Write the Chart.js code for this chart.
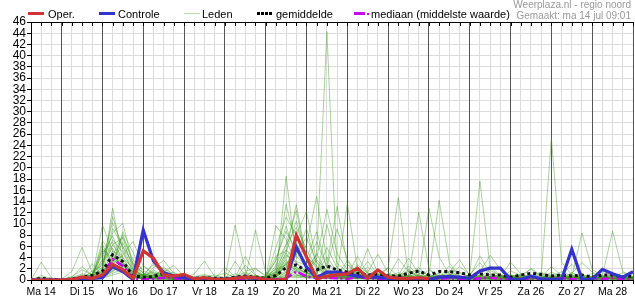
<!DOCTYPE html>
<html><head><meta charset="utf-8">
<script src="https://cdn.jsdelivr.net/npm/chart.js@4.4.1/dist/chart.umd.min.js"></script>
<style>
html,body{margin:0;padding:0;background:#fff;}
#wrap{position:relative;width:635px;height:300px;overflow:hidden;font-family:"Liberation Sans",Arial,sans-serif;}
canvas{position:absolute;left:0;top:0;}
.lg{position:absolute;top:8px;font-size:11px;line-height:12px;color:#000;white-space:nowrap;}
.sw{position:absolute;}
.hd{position:absolute;right:4px;font-size:10px;line-height:10px;color:#999;white-space:nowrap;}
</style></head>
<body><div id="wrap">
<canvas id="c" width="635" height="300"></canvas>
<div class="sw" style="left:28px;top:12px;width:16px;height:3px;background:#d03434"></div>
<div class="lg" style="left:48px">Oper.</div>
<div class="sw" style="left:99px;top:12px;width:16px;height:3px;background:#3434cc"></div>
<div class="lg" style="left:118px">Controle</div>
<div class="sw" style="left:184px;top:13px;width:16px;height:1px;background:#b9dbae"></div>
<div class="lg" style="left:202px">Leden</div>
<div class="sw" style="left:257px;top:12px;width:15px;height:3px;background:repeating-linear-gradient(to right,#000 0 3px,transparent 3px 4px)"></div>
<div class="lg" style="left:276px">gemiddelde</div>
<div class="sw" style="left:354px;top:12px;width:11px;height:3px;background:#cc00ee"></div>
<div class="sw" style="left:367px;top:13px;width:2px;height:2px;background:#cc00ee"></div>
<div class="lg" style="left:371px">mediaan (middelste waarde)</div>
<div class="hd" style="top:0px">Weerplaza.nl - regio noord</div>
<div class="hd" style="top:11px">Gemaakt: ma 14 jul 09:01</div>
</div>
<script>
// 6-hourly steps from Ma 14 06:00 to Di 29 00:00 (60 points)
const dayLabels = ["Ma 14","Di 15","Wo 16","Do 17","Vr 18","Za 19","Zo 20","Ma 21","Di 22","Wo 23","Do 24","Vr 25","Za 26","Zo 27","Ma 28"];

const oper = [0,0,0, 0,0.1,0.5,0.3, 0.9,2.8,1.8,0.3, 5.2,3.9,0.9,0.7, 1.0,0.2,0.4,0.1, 0.1,0.3,0.5,0.4, 0.1,0,0.1,8.0, 4.1,0.2,0.7,0.9, 1.1,2.1,0.3,1.8, 0.5,0.3,0.3,0.4, 0.2];

const controle = [0,0,0, 0,0,0.3,0.3, 0.4,2.4,1.5,0.1, 8.9,3.4,1.3,0.7, 0.4,0.1,0.3,0.1, 0.1,0.3,0.5,0.3, 0.1,0,0.1,5.9, 2.3,0.4,1.4,1.4, 1.0,0.7,0.5,0.5, 0.3,0.3,0.2,0.2, 0.1,0.5,0.6,0.5, 0.3,1.6,2.1,2.1, 0.1,0.1,0.7,0.2, 0.1,0.1,5.5,0.1, 0.1,1.9,1.1,0.5, 1.5];

const gemiddelde = [0,0.3,0.1, 0,0.2,0.5,0.8, 1.6,4.5,3.3,0.7, 0.5,0.6,1.2,0.7, 0.5,0.3,0.4,0.3, 0.2,0.5,0.7,0.5, 0.3,0.8,2.2,2.7, 1.6,1.8,2.5,1.8, 1.4,1.2,0.9,1.0, 0.7,0.7,1.2,1.6, 0.9,1.5,1.5,1.3, 0.9,1.1,0.9,0.9, 0.5,0.9,1.2,1.0, 0.7,0.9,0.7,0.9, 0.5,0.9,0.9,0.6, 0.7];

const mediaan = [0,0,0, 0,0,0.1,0.2, 0.8,3.7,2.5,0.2, 0.1,0.2,0.4,0.3, 0.1,0,0.1,0.1, 0,0.1,0.2,0.1, 0,0.1,0.3,1.5, 0.6,0.3,0.4,0.3, 0.2,0.5,0.3,0.2, 0.2,0.1,0.2,0.4, 0.2,0.2,0.3,0.2, 0.1,0.3,0.4,0.2, 0.1,0.1,0.3,0.2, 0.1,0.3,0.2,0.1, 0.1,0.2,0.3,0.2, 0.1];

const lid01 = [0,0,0, 0,0.2,0.5,1.2, 3.5,6.2,4.1,1.0, 0.8,1.5,0.6,0.3, 0.2,0,0.4,0.1, 0,0.3,1.2,0.4, 0.2,1.5,4.8,2.3, 1.1,3.6,1.8,0.7, 0.5,1.8,0.9,0.3, 0.2,0.6,2.5,0.8, 0.3,0.1,0.7,1.4, 0.6,0.2,0.3,0.9, 0.4,0.1,0.2,0.5, 1.1,0.3,0.6,0.2, 0.1,0.4,1.0,0.3, 0.2];
const lid02 = [0,0.4,0.1, 0,0,0.3,0.8, 2.1,11.3,5.4,1.2, 0.4,0.9,1.8,0.5, 0.3,0.1,0,0, 0.1,0,0.6,2.0, 0.8,3.4,9.6,4.2, 2.5,1.2,5.8,2.2, 0.9,0.3,1.4,4.6, 1.3,0.5,0.2,0.4, 1.8,0.6,0.3,0.1, 0.2,1.5,4.4,1.9, 0.7,0.3,0.1,0.6, 2.4,0.8,0.3,0.1, 0,0.2,0.5,1.3, 0.6];
const lid03 = [0,0,0, 0.1,0.6,1.8,0.9, 1.4,12.8,3.3,1.0, 1.0,0.4,0.2,0.6, 1.2,0.3,0.1,0, 0,0.5,0.2,0.1, 0.4,0.9,2.2,7.5, 4.1,2.6,0.8,0.5, 2.9,1.1,0.4,0.2, 0.6,3.8,1.5,0.7, 0.2,0.4,1.1,0.5, 0.3,0.1,0.6,0.3, 1.6,0.9,0.4,0.2, 0.1,0.3,1.2,3.1, 1.4,0.6,0.2,0.1, 0.3];
const lid04 = [0,3.2,0.4, 0,0,0,0.4, 5.6,3.9,2.8,1.5, 0.7,3.1,2.0,0.9, 0.4,0.2,0.1,0, 0.3,9.8,1.6,2.1, 0.6,0.2,1.4,5.6, 1.8,0.7,0.3,1.2, 0.4,0.9,3.3,1.0, 0.3,0.2,0.5,1.6, 0.8,14.2,3.1,0.6, 0.4,0.2,0.1,0.3, 0.9,0.5,2.1,0.8, 0.3,0.1,0.4,0.6, 0.2,1.9,0.7,0.3, 0.1];
const lid05 = [0,0,0, 0,0.3,0.2,1.0, 4.4,7.9,3.0,0.6, 2.6,1.2,0.5,0.2, 0,0,0,0.1, 0,0.2,0.4,0.3, 0.1,1.8,13.5,6.0, 2.2,4.5,44.3,1.6, 0.8,0.4,0.3,0.9, 2.2,0.7,0.4,0.3, 0.5,0.9,0.4,0.2, 0.1,0.6,1.7,0.8, 0.3,0.2,0.6,1.4, 0.5,0.2,0.1,0.3, 0.4,0.2,0.8,0.3, 0.2];
const lid06 = [0,0,0, 0,0,0.1,0.3, 0.9,2.4,8.6,4.9, 1.1,0.6,0.3,0.1, 0,0,0.2,0.5, 1.3,0.4,0.2,0.1, 0,0.4,18.5,3.8, 6.2,14.9,3.4,1.1, 0.7,2.3,0.9,0.4, 0.3,0.1,0.4,0.2, 0.1,0.3,0.8,2.4, 1.0,17.6,2.2,0.5, 0.3,0.2,0.1,0.4, 0.6,1.5,0.7,0.3, 0.2,0.1,0.3,0.6, 0.4];
const lid07 = [0,0.1,0, 0,0,0.4,2.9, 0.8,3.2,6.7,2.5, 0.5,0.8,1.4,2.6, 0.6,0.3,0,0, 0,0.1,0.3,0.8, 0.2,2.6,6.4,12.4, 3.3,1.5,2.7,13.1, 2.8,0.7,0.4,0.3, 0.9,0.5,0.3,12.1, 2.0,0.6,0.4,0.2, 0.1,0.3,0.9,0.5, 3.2,1.1,0.5,0.2, 0.4,0.9,2.8,1.0, 0.3,0.6,0.2,0.1, 0.2];
const lid08 = [0,0,0, 0,0.1,0.2,0.6, 9.8,5.1,2.0,0.4, 0.3,2.2,3.5,1.2, 0.4,0.1,0,0.1, 0.2,0.6,0.3,8.9, 1.4,0.5,3.1,1.7, 0.9,4.7,1.3,0.8, 13.7,1.9,0.6,1.1, 0.4,1.0,0.3,0.2, 0.6,1.2,0.5,0.3, 0.2,0.5,0.3,0.1, 0.4,0.8,1.9,0.6, 25.3,3.2,0.9,0.4, 1.2,0.5,0.3,0.7, 1.1];
const lid09 = [0,0.8,0.2, 0,0,0,0.2, 1.6,3.5,2.4,0.9, 0.4,0.2,0.6,0.3, 0.1,0,0.1,0, 0,0.2,0.1,0.4, 0.3,1.2,3.6,2.0, 1.4,0.8,0.5,1.6, 0.7,0.4,1.8,0.6, 2.1,14.7,0.8,0.3, 0.2,0.5,0.9,0.4, 0.3,0.2,0.4,0.7, 0.5,0.9,0.3,0.2, 0.4,0.3,0.6,8.4, 1.9,0.7,0.4,0.2, 0.3];
const lid10 = [0,0,0, 0,0,0.6,0.3, 3.0,8.4,10.1,2.6, 1.3,0.5,0.9,0.4, 0.2,1.1,3.4,0.6, 0.3,0.1,0.6,0.2, 0.1,0.7,1.6,4.5, 9.2,2.4,0.8,0.4, 1.2,0.5,0.2,0.1, 0.3,0.4,1.6,0.5, 12.8,4.1,1.0,0.4, 0.2,0.1,0.3,0.2, 0.6,0.4,0.8,0.3, 0.2,0.5,0.3,0.1, 0.3,0.8,8.7,1.5, 0.6];
const lid11 = [0,0,0.3, 0.2,1.5,5.8,1.4, 1.2,4.0,3.1,0.7, 0.2,0.4,0.3,0.1, 0,0,0,0, 0,0.1,0.2,0.1, 0.6,1.9,2.7,1.0, 0.4,0.6,0.3,0.2, 0.4,0.9,0.5,0.3, 0.2,0.6,0.4,0.9, 0.3,0.2,0.1,0.4, 0.9,0.6,0.3,0.2, 0.1,0.3,0.5,0.2, 0.4,0.2,0.6,0.3, 0.5,0.2,0.1,0.3, 0.4];
const lid12 = [0,0,0, 0,0,0.2,0.4, 1.8,6.3,7.5,1.9, 0.6,0.3,0.4,0.8, 0.3,0.2,0.6,0.9, 0.4,0.2,0.3,0.5, 0.2,5.8,11.2,8.0, 12.2,3.1,1.0,0.5, 0.6,1.6,0.8,0.3, 0.4,0.2,0.5,0.3, 0.6,0.4,2.5,0.7, 0.3,0.5,0.2,0.1, 0.2,0.6,0.4,0.9, 0.3,0.1,0.2,0.4, 0.6,1.7,0.5,0.2, 0.3];
const lid13 = [0,0,0, 0,0.3,0.1,0.5, 7.0,4.6,1.5,0.3, 0.2,0.5,2.3,0.9, 0.3,0.2,0.4,0.2, 0.1,3.3,0.8,0.3, 0.4,0.2,0.5,2.3, 1.1,0.6,9.9,3.0, 1.4,0.8,5.6,1.2, 0.5,0.3,0.2,0.1, 0.4,0.8,0.5,0.3, 0.6,4.3,1.2,0.4, 0.2,0.1,0.3,0.2, 0.5,0.9,0.4,0.1, 0.2,0.4,0.3,0.5, 0.2];
const lid14 = [0,0,0, 0,0.2,0.9,0.4, 0.6,2.8,4.4,6.9, 2.5,1.0,0.4,0.2, 0.1,0,0,0, 0,0,0.1,0.3, 0.5,0.3,0.8,1.6, 0.5,1.8,0.9,0.4, 0.3,0.2,0.6,1.9, 0.8,0.3,0.2,0.4, 0.3,0.6,0.2,0.1, 0.2,0.4,1.0,0.6, 0.4,0.3,0.2,0.1, 0.2,0.4,1.3,0.5, 0.3,0.2,0.4,0.1, 0.2];
const lid15 = [0,0.2,0, 0,0,0.1,0.2, 0.4,1.2,1.9,0.8, 0.3,0.2,0.1,0.2, 0.6,0.4,0.2,0.1, 0,0.4,0.3,0.1, 0.2,0.6,1.3,0.9, 0.4,0.3,0.5,0.2, 0.1,0.3,0.2,0.4, 0.2,0.5,0.3,0.2, 0.1,0.2,0.4,0.3, 0.6,0.3,0.2,0.1, 0.2,0.4,0.3,0.5, 0.3,0.2,0.1,0.2, 0.4,0.3,0.2,0.3, 0.1];
const lid16 = [0,0,0, 0,0,0.3,1.6, 2.6,9.2,5.9,1.8, 0.9,0.4,1.1,0.5, 0.2,0.1,0.3,0.1, 0.2,0.5,0.2,0.6, 0.3,9.7,7.2,2.9, 1.5,3.9,12.6,4.7, 1.8,0.9,0.5,0.3, 0.6,1.3,0.7,0.4, 0.2,0.3,0.9,0.5, 0.8,0.4,0.2,0.3, 0.9,0.5,0.2,0.3, 1.4,0.6,0.3,0.2, 0.4,0.9,0.3,0.2, 0.4];
const lid17 = [0,0,0.1, 0,0,0,0.1, 0.5,1.8,2.2,0.6, 0.4,1.3,0.6,0.3, 0.2,0.6,1.0,0.4, 0.1,0.3,4.2,0.9, 0.3,0.1,0.4,0.8, 0.6,0.4,0.3,0.7, 0.5,0.2,0.1,0.3, 0.2,0.4,0.6,0.3, 0.5,0.3,0.2,0.4, 0.2,0.1,0.3,0.2, 0.1,0.2,0.4,0.3, 0.2,0.6,0.3,0.1, 0.3,0.5,0.2,0.4, 0.3];
const lid18 = [0,0,0, 0,0.1,0.4,0.9, 5.4,3.3,7.7,3.6, 1.7,0.8,0.6,0.2, 0.1,0.2,0.1,0, 0,0.1,0.2,0.1, 0.4,4.3,5.1,13.4, 3.8,8.6,2.1,1.0, 0.4,0.3,0.8,0.5, 1.1,0.6,0.3,0.2, 0.3,0.7,1.4,3.6, 0.8,0.4,0.3,0.2, 0.6,0.9,0.4,0.3, 0.2,0.4,0.2,0.3, 0.1,0.2,0.6,0.3, 0.5];
const lid19 = [0,0,0, 0,0,0,0.3, 0.8,2.1,1.3,0.5, 0.3,0.9,1.6,0.4, 0.2,0.1,0.2,0.3, 2.2,0.6,0.3,0.2, 0.1,0.3,1.0,0.6, 0.3,0.9,0.6,0.3, 0.5,1.2,0.4,0.2, 0.3,0.2,0.1,0.5, 0.9,0.4,0.3,0.2, 0.4,0.8,0.5,0.3, 0.2,0.3,0.5,0.4, 0.3,0.2,0.5,0.9, 0.6,0.3,0.2,0.4, 0.2];
const lid20 = [0,0,0, 0,0.2,0.1,0.4, 1.1,5.2,3.9,2.2, 0.6,0.3,0.2,0.1, 0,0,0.1,0.2, 0.3,0.2,0.9,0.4, 0.2,0.6,3.9,6.8, 2.0,1.1,0.7,0.9, 3.4,1.0,0.6,0.3, 0.2,0.8,3.9,1.2, 0.5,0.3,0.6,0.4, 0.9,3.1,0.8,0.3, 0.5,0.2,0.4,1.1, 0.7,0.3,0.2,0.1, 0.2,0.3,1.1,0.4, 0.6];
const lid21 = [0,0.5,0, 0,0,0.2,0.1, 0.3,0.9,1.4,0.5, 0.2,0.1,0.3,0.2, 0.1,0.4,0.2,0.1, 0.2,0.1,0.4,0.2, 0.1,0.2,0.6,0.4, 0.7,0.3,0.2,0.4, 0.2,0.6,0.3,0.1, 0.4,0.2,0.3,0.6, 0.2,0.1,0.3,0.2, 0.3,0.5,0.2,0.1, 0.4,0.3,0.2,0.5, 0.2,0.1,0.3,0.2, 0.5,0.2,0.1,0.3, 0.2];
const lid22 = [0,0,0, 0,0.4,1.1,0.7, 4.9,6.8,2.7,0.9, 0.4,1.8,0.7,0.3, 0.2,0.1,0,0.1, 0.1,0.3,0.1,0.2, 0.6,1.3,6.3,9.4, 5.5,2.1,1.7,0.6, 0.9,4.2,1.1,0.5, 0.7,0.4,0.9,0.3, 0.4,0.2,0.3,0.8, 0.3,0.2,0.4,0.6, 0.3,0.5,0.2,0.1, 0.3,0.4,0.6,0.3, 0.2,0.1,0.3,0.2, 0.1];
const lid23 = [0,0,0, 0,0,0.1,0.2, 0.6,1.5,2.9,1.3, 0.5,0.2,0.4,0.3, 0.1,0.2,0.5,0.3, 0.2,0.4,0.6,0.5, 0.3,0.9,2.4,1.5, 0.8,0.5,1.2,0.6, 0.4,0.3,0.2,0.6, 0.3,0.7,0.4,0.2, 0.3,0.5,0.2,0.1, 0.2,0.3,0.6,0.4, 0.3,0.2,0.1,0.3, 0.4,0.3,0.2,0.4, 0.3,0.6,0.4,0.2, 0.3];
const lid24 = [0,0,0, 0,0,0.2,0.5, 3.7,10.2,6.0,2.9, 1.2,0.6,0.3,0.2, 0.1,0,0.2,0.1, 0.4,0.2,0.1,0.3, 0.2,0.7,4.4,3.1, 1.3,0.7,0.4,0.3, 0.6,0.3,0.9,0.4, 0.2,0.3,0.5,0.4, 0.6,0.8,0.4,0.3, 0.4,0.2,0.1,0.3, 0.5,0.3,0.6,0.2, 0.1,0.2,0.3,0.5, 0.4,0.3,0.2,0.1, 0.3];
const lid25 = [0,0,0, 0,0.5,2.4,0.8, 1.3,3.9,2.0,0.7, 0.5,0.3,0.8,1.4, 0.3,0.2,0.1,0.2, 0.5,1.1,0.4,0.2, 0.3,2.1,5.4,3.3, 2.6,1.2,4.1,1.5, 0.8,1.3,0.6,0.4, 0.5,0.9,0.6,0.3, 1.0,0.5,0.3,0.6, 0.4,0.8,0.6,0.3, 0.2,0.6,0.9,0.4, 0.8,0.4,0.3,0.6, 0.2,0.5,0.3,0.4, 0.6];
const lid26 = [0,0,0, 0,0,0.1,0.6, 6.3,2.9,1.6,0.4, 0.9,2.7,1.2,0.5, 0.3,0.1,0.2,0.4, 0.2,0.1,2.6,0.8, 0.4,0.3,2.9,4.7, 7.6,3.2,1.4,0.6, 0.4,2.7,1.3,0.5, 0.6,0.3,0.8,2.2, 0.6,0.4,0.2,0.3, 0.5,0.9,2.6,0.7, 0.3,0.2,0.5,0.3, 0.6,0.4,0.9,0.4, 0.7,0.3,0.2,0.4, 0.3];
const lid27 = [0,0,0, 0,0.1,0.2,0.3, 1.9,4.3,8.1,3.0, 0.7,0.4,0.2,0.5, 0.8,0.4,0.1,0, 0.1,0.2,0.3,0.6, 0.3,3.6,8.7,5.2, 3.1,6.8,2.3,9.1, 3.7,1.1,0.6,0.4, 0.3,0.5,1.9,0.7, 0.4,0.3,0.5,1.2, 0.6,0.3,0.2,0.4, 0.3,0.8,0.4,0.2, 0.3,0.6,0.4,0.2, 0.4,0.3,0.6,0.3, 0.2];
const lid28 = [0,0,0.2, 0,0,0.2,1.0, 3.1,5.7,2.5,1.1, 0.6,0.3,0.5,0.3, 0.2,0.5,0.8,0.3, 0.1,0.2,0.5,0.3, 0.2,0.5,3.3,1.9, 1.2,0.9,0.5,0.4, 0.6,0.5,2.4,0.8, 0.4,0.3,0.2,0.5, 0.3,0.6,0.9,0.5, 0.3,0.2,0.5,0.9, 0.5,0.3,0.2,0.6, 0.4,0.8,0.5,0.2, 0.3,0.2,0.5,0.8, 0.4];
const lid29 = [0,0,0, 0,0.3,0.6,0.5, 2.4,7.2,4.9,1.6, 0.8,0.5,0.9,0.6, 0.3,0.2,0.4,0.2, 0.3,0.6,1.4,0.7, 0.2,1.0,4.9,10.5, 4.4,2.0,1.3,0.8, 1.6,0.7,0.4,0.9, 0.5,0.4,0.7,0.9, 0.3,0.2,1.6,0.6, 0.4,0.7,0.5,0.3, 0.6,0.4,0.3,0.2, 0.5,0.3,0.4,0.7, 0.3,0.6,0.4,0.3, 0.5];
const lid30 = [0,0,0, 0,0,0,0.2, 0.4,1.6,3.6,1.4, 0.3,0.2,0.1,0.1, 0.1,0,0,0.1, 0,0.1,0.2,0.4, 0.6,1.4,2.8,1.7, 0.9,0.6,0.4,0.3, 0.2,0.4,0.3,0.2, 0.3,0.2,0.4,0.3, 0.2,0.3,0.5,0.3, 0.2,0.4,0.3,0.2, 0.3,0.2,0.4,0.3, 0.2,0.3,0.2,0.4, 0.3,0.2,0.3,0.2, 0.3];
const leden = [lid01,lid02,lid03,lid04,lid05,lid06,lid07,lid08,lid09,lid10,lid11,lid12,lid13,lid14,lid15,lid16,lid17,lid18,lid19,lid20,lid21,lid22,lid23,lid24,lid25,lid26,lid27,lid28,lid29,lid30];

const pts = arr => arr.map((v,i)=>({x:i,y:v}));

const datasets = [
  {label:'Oper.', data:pts(oper), borderColor:'#d03434', borderWidth:3.2, order:0},
  {label:'Controle', data:pts(controle), borderColor:'#3434cc', borderWidth:3.2, order:1},
  {label:'gemiddelde', data:pts(gemiddelde), borderColor:'#111', borderWidth:3, borderDash:[3,3], order:2},
  {label:'mediaan', data:pts(mediaan), borderColor:'#cc00ee', borderWidth:2.5, borderDash:[8,3,2,3], order:3}
];
leden.forEach((m,k)=>datasets.push({label:'Leden', data:pts(m), borderColor:'rgba(55,150,25,0.42)', borderWidth:1, order:10+k}));
datasets.forEach(d=>{d.pointRadius=0; d.tension=0; d.fill=false; d.pointHoverRadius=0;});

const frame = {
  id:'frame',
  afterDraw(chart){
    const {ctx, chartArea:a, scales:{x}} = chart;
    ctx.save();
    ctx.strokeStyle='#000'; ctx.lineWidth=1;
    ctx.beginPath();
    ctx.moveTo(a.left, a.top+0.5); ctx.lineTo(a.right, a.top+0.5);
    x.ticks.forEach((t,i)=>{const px=Math.round(x.getPixelForTick(i))+0.5; ctx.moveTo(px,a.top); ctx.lineTo(px,a.top+4);});
    ctx.stroke();
    ctx.restore();
  }
};

new Chart(document.getElementById('c'), {
  type:'line',
  data:{datasets},
  plugins:[frame],
  options:{
    responsive:false, animation:false, devicePixelRatio:1,
    layout:{padding:{top:22,right:1,left:0,bottom:0}},
    plugins:{legend:{display:false}, tooltip:{enabled:false}},
    scales:{
      y:{
        min:0, max:46,
        ticks:{stepSize:2, autoSkip:false, color:'#000', font:{family:'"Liberation Sans", Arial, sans-serif', size:12}, padding:1},
        grid:{color:'#dcdcdc', tickColor:'#000', tickLength:4, lineWidth:1},
        border:{color:'#000', width:1},
        afterFit(s){ s.width = 31; }
      },
      x:{
        type:'linear', min:0, max:59,
        ticks:{stepSize:1, autoSkip:false, maxRotation:0, minRotation:0, color:'#000',
          font:{family:'"Liberation Sans", Arial, sans-serif', size:10.5},
          padding:2,
          callback:(v)=> (v % 4 === 1) ? dayLabels[(v-1)/4] : ''},
        grid:{color:(c)=> (c.tick && c.tick.value % 4 === 3) ? '#555' : '#dcdcdc', tickColor:'#000', tickLength:4, lineWidth:1},
        border:{color:'#000', width:1},
        afterFit(s){ s.height = 20; }
      }
    }
  }
});
</script>
</body></html>
